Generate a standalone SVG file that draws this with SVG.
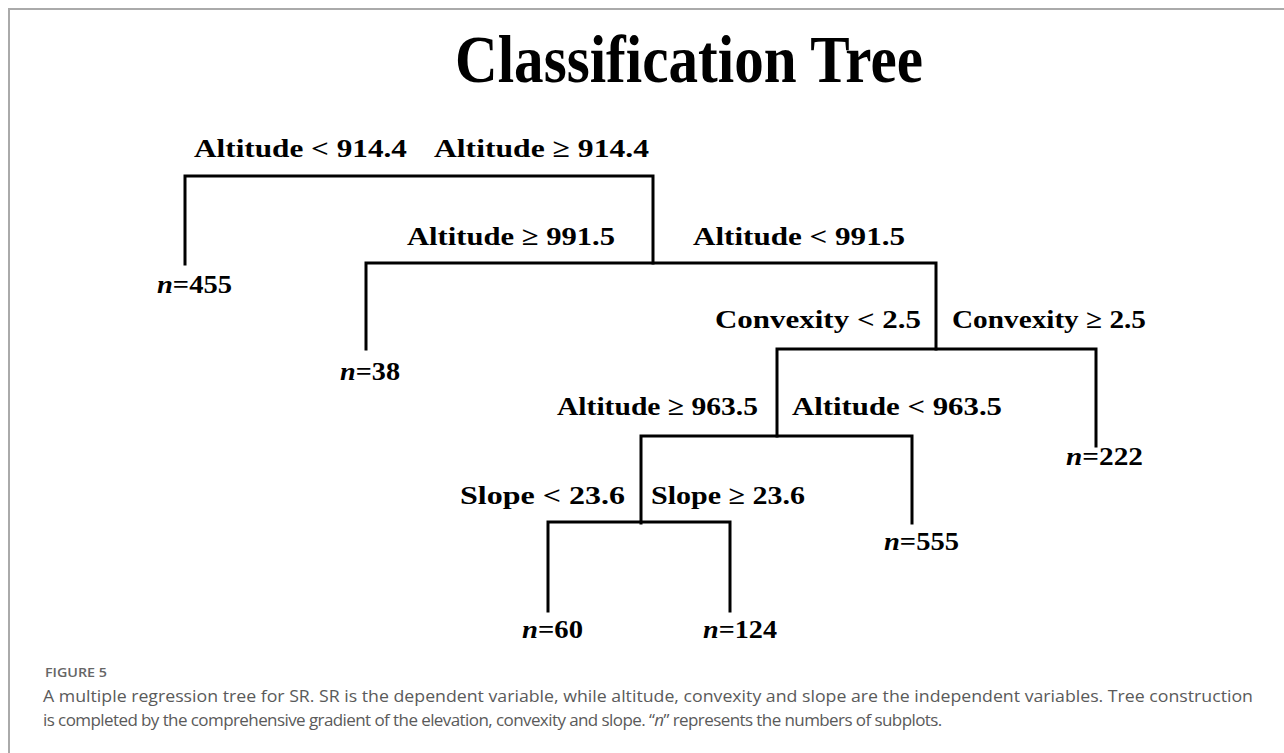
<svg xmlns="http://www.w3.org/2000/svg" width="1284" height="753" viewBox="0 0 1284 753">
<style>
.lbl{font-family:"Liberation Serif","Times New Roman",serif;font-weight:bold;font-size:26px;fill:#000}
.leaf{font-family:"Liberation Serif","Times New Roman",serif;font-weight:bold;font-size:25px;fill:#000}
.it{font-style:italic}
.edge{fill:none;stroke:#000;stroke-width:3;stroke-linejoin:miter;stroke-linecap:square}
.cap{font-family:"Open Sans","Liberation Sans",sans-serif;font-size:17px;fill:#5a5a5a}
</style>
<rect x="0" y="0" width="1284" height="753" fill="#fff"/>
<g id="frame">
<path d="M9,753 V9 H1284" fill="none" stroke="#aaa" stroke-width="2"/>
</g>
<g id="title">
<text x="455" y="82" font-family="Liberation Serif,'Times New Roman',serif" font-weight="bold" font-size="68" textLength="468" lengthAdjust="spacingAndGlyphs">Classification Tree</text>
</g>
<g id="connectors">
<path class="edge" d="M185,264 V176 H653 V263"/>
<path class="edge" d="M366,349 V263 H936 V349"/>
<path class="edge" d="M777,436 V349 H1096 V446"/>
<path class="edge" d="M641,523 V436 H912 V523"/>
<path class="edge" d="M548,611 V522 H730 V611"/>
</g>
<g id="split1">
<text class="lbl" x="194" y="157" textLength="213" lengthAdjust="spacingAndGlyphs">Altitude &lt; 914.4</text>
<text class="lbl" x="434" y="157" textLength="215" lengthAdjust="spacingAndGlyphs">Altitude ≥ 914.4</text>
</g>
<g id="split2">
<text class="lbl" x="407" y="245" textLength="208" lengthAdjust="spacingAndGlyphs">Altitude ≥ 991.5</text>
<text class="lbl" x="693" y="245" textLength="212" lengthAdjust="spacingAndGlyphs">Altitude &lt; 991.5</text>
</g>
<g id="split3">
<text class="lbl" x="715" y="328" textLength="206" lengthAdjust="spacingAndGlyphs">Convexity &lt; 2.5</text>
<text class="lbl" x="952" y="328" textLength="194" lengthAdjust="spacingAndGlyphs">Convexity ≥ 2.5</text>
</g>
<g id="split4">
<text class="lbl" x="557" y="415" textLength="201" lengthAdjust="spacingAndGlyphs">Altitude ≥ 963.5</text>
<text class="lbl" x="792" y="415" textLength="210" lengthAdjust="spacingAndGlyphs">Altitude &lt; 963.5</text>
</g>
<g id="split5">
<text class="lbl" x="460" y="504" textLength="165" lengthAdjust="spacingAndGlyphs">Slope &lt; 23.6</text>
<text class="lbl" x="651" y="504" textLength="154" lengthAdjust="spacingAndGlyphs">Slope ≥ 23.6</text>
</g>
<g id="leaf455"><text class="leaf" x="157" y="293" textLength="75" lengthAdjust="spacingAndGlyphs"><tspan class="it">n</tspan>=455</text></g>
<g id="leaf38"><text class="leaf" x="340" y="380" textLength="60" lengthAdjust="spacingAndGlyphs"><tspan class="it">n</tspan>=38</text></g>
<g id="leaf222"><text class="leaf" x="1066" y="465" textLength="77" lengthAdjust="spacingAndGlyphs"><tspan class="it">n</tspan>=222</text></g>
<g id="leaf555"><text class="leaf" x="884" y="550" textLength="75" lengthAdjust="spacingAndGlyphs"><tspan class="it">n</tspan>=555</text></g>
<g id="leaf60"><text class="leaf" x="522" y="638" textLength="61" lengthAdjust="spacingAndGlyphs"><tspan class="it">n</tspan>=60</text></g>
<g id="leaf124"><text class="leaf" x="703" y="638" textLength="74" lengthAdjust="spacingAndGlyphs"><tspan class="it">n</tspan>=124</text></g>
<g id="caption">
<text x="45" y="677" font-family="'Open Sans','Liberation Sans',sans-serif" font-size="12" font-weight="600" fill="#666" textLength="62" lengthAdjust="spacingAndGlyphs">FIGURE 5</text>
<text class="cap" x="43" y="702" textLength="1210" lengthAdjust="spacingAndGlyphs">A multiple regression tree for SR. SR is the dependent variable, while altitude, convexity and slope are the independent variables. Tree construction</text>
<text class="cap" x="43" y="726" letter-spacing="-0.58">is completed by the comprehensive gradient of the elevation, convexity and slope. “<tspan font-style="italic">n</tspan>” represents the numbers of subplots.</text>
</g>
</svg>
